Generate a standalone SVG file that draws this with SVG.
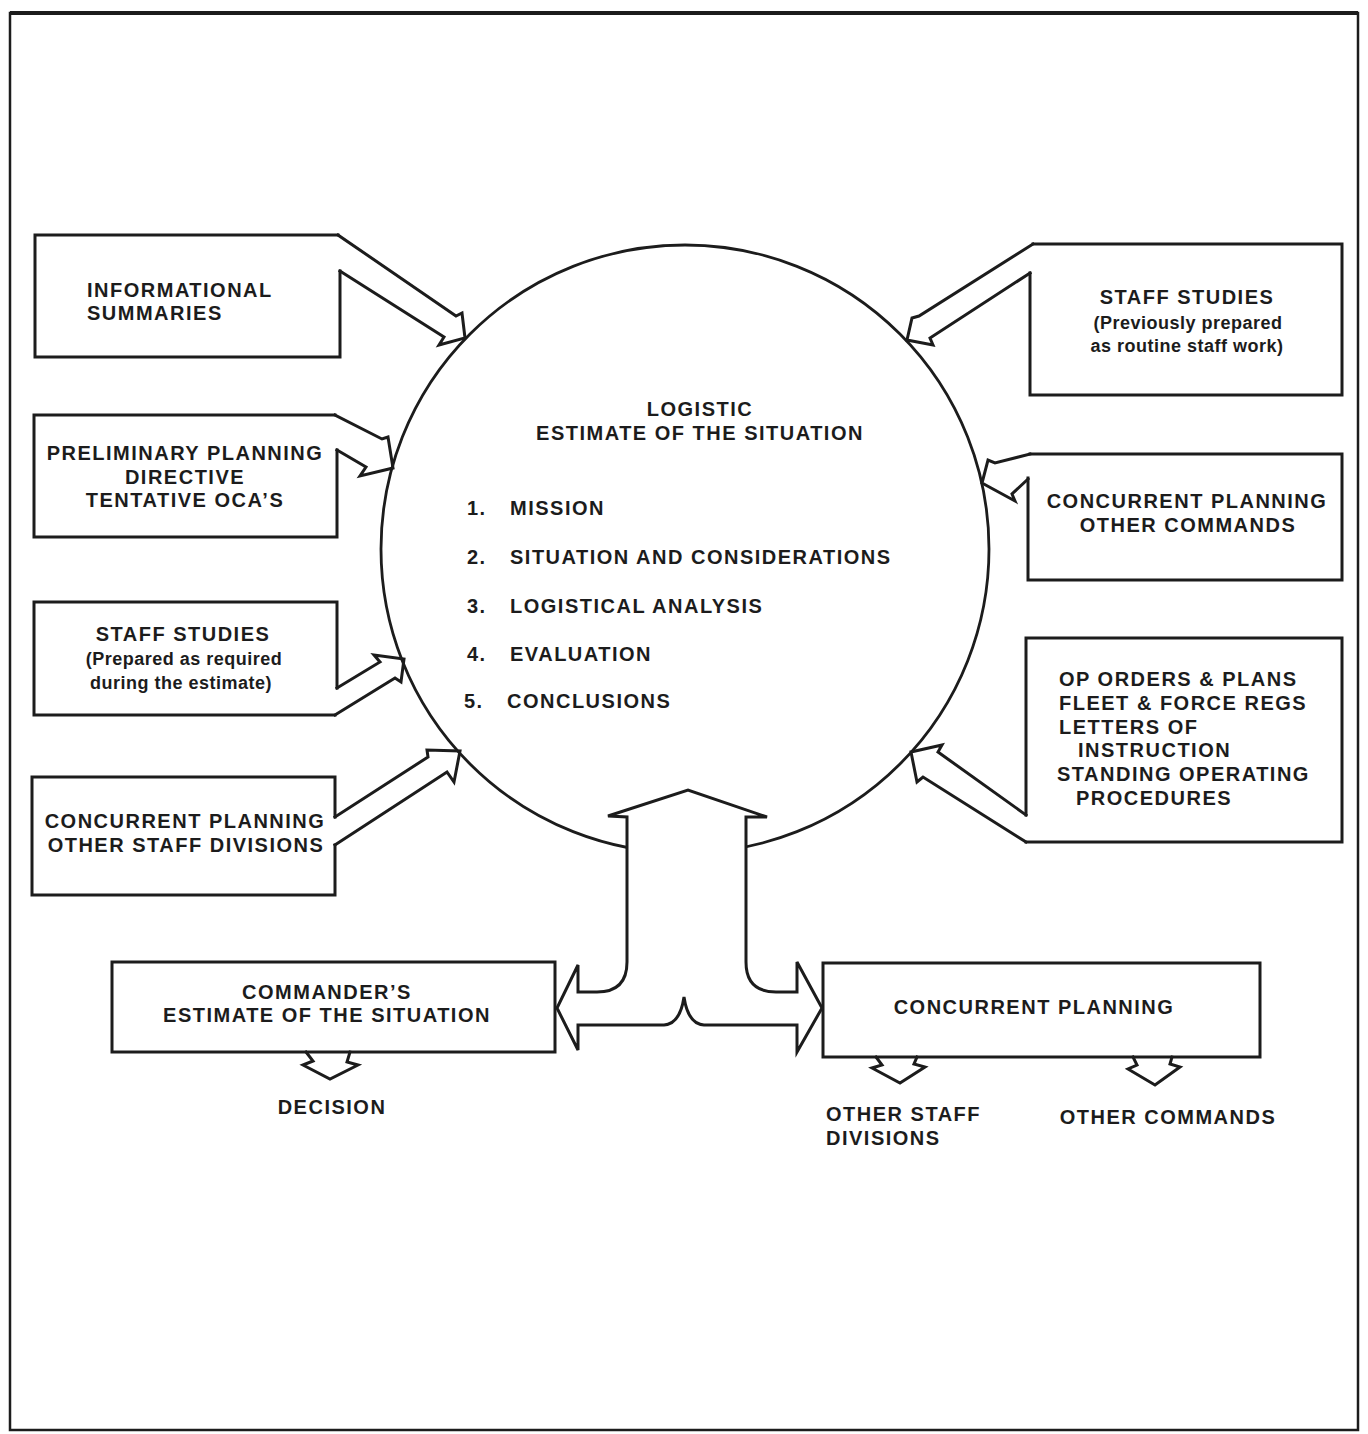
<svg xmlns="http://www.w3.org/2000/svg" width="1368" height="1434" viewBox="0 0 1368 1434">
<style>
.ln{fill:none;stroke:#1c1c1c;stroke-width:3;stroke-linejoin:miter;stroke-linecap:square}
.wf{fill:#fff;stroke:#1c1c1c;stroke-width:3;stroke-linejoin:miter}
.t{font-family:"Liberation Sans",Arial,sans-serif;font-weight:bold;font-size:20px;letter-spacing:1.5px;fill:#1c1c1c}
.s{font-family:"Liberation Sans",Arial,sans-serif;font-weight:bold;font-size:18px;letter-spacing:0.5px;fill:#1c1c1c}
.m{text-anchor:middle}
</style>
<rect x="0" y="0" width="1368" height="1434" fill="#fff"/>
<rect x="10" y="13" width="1348" height="1417" fill="none" stroke="#1c1c1c" stroke-width="2.5"/>
<line x1="10" y1="13" x2="1358" y2="13" stroke="#1c1c1c" stroke-width="4"/>

<g id="center">
<circle cx="685" cy="549" r="304" fill="#fff" stroke="#1c1c1c" stroke-width="2.8"/>
<text class="t m" x="700" y="416">LOGISTIC</text>
<text class="t m" x="700" y="440">ESTIMATE OF THE SITUATION</text>
<text class="t" x="467" y="515">1.</text><text class="t" x="510" y="515">MISSION</text>
<text class="t" x="467" y="564">2.</text><text class="t" x="510" y="564">SITUATION AND CONSIDERATIONS</text>
<text class="t" x="467" y="613">3.</text><text class="t" x="510" y="613">LOGISTICAL ANALYSIS</text>
<text class="t" x="467" y="661">4.</text><text class="t" x="510" y="661">EVALUATION</text>
<text class="t" x="464" y="708">5.</text><text class="t" x="507" y="708">CONCLUSIONS</text>
</g>

<g id="informational-summaries">
<path class="ln" d="M340,271 L340,357 L35,357 L35,235 L338,235"/>
<text class="t" x="87" y="297">INFORMATIONAL</text>
<text class="t" x="87" y="320">SUMMARIES</text>
</g>

<g id="preliminary-planning">
<path class="ln" d="M337,450 L337,537 L34,537 L34,415 L335,415"/>
<text class="t m" x="185" y="460">PRELIMINARY PLANNING</text>
<text class="t m" x="185" y="484">DIRECTIVE</text>
<text class="t m" x="185" y="507">TENTATIVE OCA’S</text>
</g>

<g id="staff-studies-left">
<path class="ln" d="M337,688 L337,602 L34,602 L34,715 L335,715"/>
<text class="t m" x="183" y="641">STAFF STUDIES</text>
<text class="s m" x="184" y="665">(Prepared as required</text>
<text class="s m" x="181" y="689">during the estimate)</text>
</g>

<g id="concurrent-staff">
<path class="ln" d="M335,817 L335,777 L32,777 L32,895 L335,895 L335,845"/>
<text class="t m" x="185" y="828">CONCURRENT PLANNING</text>
<text class="t m" x="186" y="852">OTHER STAFF DIVISIONS</text>
</g>

<g id="staff-studies-right">
<path class="ln" d="M1030,273 L1030,395 L1342,395 L1342,244 L1033,244"/>
<text class="t m" x="1187" y="304">STAFF STUDIES</text>
<text class="s m" x="1188" y="329">(Previously prepared</text>
<text class="s m" x="1187" y="352">as routine staff work)</text>
</g>

<g id="concurrent-commands">
<path class="ln" d="M1028,478 L1028,580 L1342,580 L1342,454 L1030,454"/>
<text class="t m" x="1187" y="508">CONCURRENT PLANNING</text>
<text class="t m" x="1188" y="532">OTHER COMMANDS</text>
</g>

<g id="op-orders">
<path class="ln" d="M1026,815 L1026,638 L1342,638 L1342,842 L1026,842"/>
<text class="t" x="1059" y="686">OP ORDERS &amp; PLANS</text>
<text class="t" x="1059" y="710">FLEET &amp; FORCE REGS</text>
<text class="t" x="1059" y="734">LETTERS OF</text>
<text class="t" x="1078" y="757">INSTRUCTION</text>
<text class="t" x="1057" y="781">STANDING OPERATING</text>
<text class="t" x="1076" y="805">PROCEDURES</text>
</g>

<g id="commanders-estimate">
<rect class="ln" x="112" y="962" width="443" height="90"/>
<text class="t m" x="327" y="999">COMMANDER’S</text>
<text class="t m" x="327" y="1022">ESTIMATE OF THE SITUATION</text>
</g>

<g id="concurrent-planning">
<rect class="ln" x="823" y="963" width="437" height="94"/>
<text class="t m" x="1034" y="1014">CONCURRENT PLANNING</text>
</g>

<g id="decision"><text class="t m" x="332" y="1114">DECISION</text></g>
<g id="other-staff-divisions">
<text class="t" x="826" y="1121">OTHER STAFF</text>
<text class="t" x="826" y="1145">DIVISIONS</text>
</g>
<g id="other-commands"><text class="t m" x="1168" y="1124">OTHER COMMANDS</text></g>

<g id="connectors">
<path class="ln" d="M338,235 L456,316 L462,313 L465,338 L439,345 L444,337 L340,271"/>
<path class="ln" d="M335,415 L382,439 L388,437 L393,468 L360,476 L366,467 L337,450"/>
<path class="ln" d="M337,688 L380,662 L374,655 L404,659 L401,682 L395,678 L335,715"/>
<path class="ln" d="M335,817 L428,757 L427,750 L460,751 L454,782 L447,772 L335,845"/>
<path class="ln" d="M1033,244 L919,316 L912,318 L907,340 L933,345 L930,338 L1030,273"/>
<path class="ln" d="M1030,454 L995,463 L988,460 L982,483 L1015,501 L1012,494 L1028,479"/>
<path class="ln" d="M1026,842 L923,777 L917,782 L911,752 L942,745 L938,752 L1026,815"/>
<path class="wf" d="M578,992 L578,965 L557,1008 L578,1050 L578,1025 L664,1025 Q680,1024 684,997 Q688,1024 704,1025 L797,1025 L797,1052 L822,1008 L797,962 L797,992 L776,992 Q746,992 746,962 L746,817 L767,817 L688,790 L608,816 L627,817 L627,962 Q627,992 597,992 Z"/>
<path class="ln" d="M306,1052 L313,1061 L303,1065 L330,1079 L358,1065 L347,1062 L350,1052"/>
<path class="ln" d="M876,1057 L882,1065 L872,1068 L900,1083 L925,1067 L914,1064 L917,1057"/>
<path class="ln" d="M1133,1057 L1137,1065 L1128,1069 L1155,1085 L1180,1067 L1170,1064 L1172,1057"/>
</g>
</svg>
